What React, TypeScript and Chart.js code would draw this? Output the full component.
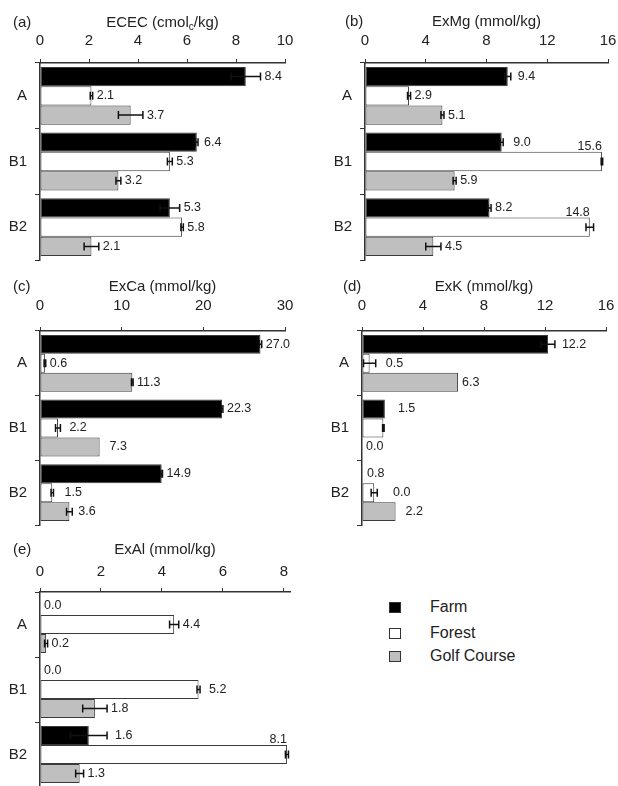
import React, { useEffect, useRef } from "react";
import { Chart, registerables } from "chart.js";

Chart.register(...registerables);

const FONT = "'Liberation Sans', Arial, Helvetica, sans-serif";
const TEXT = "#222222";
const LINE = "#333333";

// Soil horizons and land uses
const horizons = ["A", "B1", "B2"];
const landUses = ["Farm", "Forest", "Golf Course"];
const landUseFill = ["#000000", "#ffffff", "#bfbfbf"];

// (a) ECEC, cmolc/kg
const ececFarm = [8.4, 6.4, 5.3];
const ececForest = [2.1, 5.3, 5.8];
const ececGolf = [3.7, 3.2, 2.1];
const ececFarmErr = [0.6, 0.05, 0.4];
const ececForestErr = [0.05, 0.1, 0.05];
const ececGolfErr = [0.5, 0.1, 0.3];
const ececAxis = [0, 10, 2];

// (b) exchangeable Mg, mmol/kg
const mgFarm = [9.4, 9.0, 8.2];
const mgForest = [2.9, 15.6, 14.8];
const mgGolf = [5.1, 5.9, 4.5];
const mgFarmErr = [0.2, 0.1, 0.1];
const mgForestErr = [0.1, 0.05, 0.25];
const mgGolfErr = [0.1, 0.1, 0.5];
const mgAxis = [0, 16, 4];

// (c) exchangeable Ca, mmol/kg
const caFarm = [27.0, 22.3, 14.9];
const caForest = [0.6, 2.2, 1.5];
const caGolf = [11.3, 7.3, 3.6];
const caFarmErr = [0.15, 0.1, 0.1];
const caForestErr = [0.1, 0.3, 0.15];
const caGolfErr = [0.1, 0, 0.35];
const caAxis = [0, 30, 10];

// (d) exchangeable K, mmol/kg
const kFarm = [12.2, 1.5, 0.0];
const kForest = [0.5, 1.4, 0.8];
const kGolf = [6.3, 0.0, 2.2];
const kFarmErr = [0.45, 0, 0];
const kForestErr = [0.4, 0.05, 0.2];
const kGolfErr = [0, 0, 0];
const kAxis = [0, 16, 4];

// (e) exchangeable Al, mmol/kg
const alFarm = [0.0, 0.0, 1.6];
const alForest = [4.4, 5.2, 8.1];
const alGolf = [0.2, 1.8, 1.3];
const alFarmErr = [0, 0, 0.6];
const alForestErr = [0.15, 0.05, 0.05];
const alGolfErr = [0.05, 0.4, 0.13];
const alAxis = [0, 8.2, 2];

// Value label placement: r = right of error bar, t = on top of bar end,
// u = one row up from the base, d = one row down, n = hidden
type Tweak = { s: number; i: number; pos: string; dx?: number };

type Layout = {
  left: number; top: number; w: number; h: number;
  pl: number; pt: number; pr: number; pb: number;
  titleY: number; letterX: number; tickPad: number;
};

type Panel = {
  letter: string;
  title: string;
  values: number[][];
  errors: number[][];
  axis: number[];
  tweaks: Tweak[];
  layout: Layout;
};

const panels: Panel[] = [
  {
    letter: "(a)",
    title: "ECEC (cmol_c/kg)",
    values: [ececFarm, ececForest, ececGolf],
    errors: [ececFarmErr, ececForestErr, ececGolfErr],
    axis: ececAxis,
    tweaks: [{ s: 0, i: 1, pos: "r", dx: 2 }],
    layout: { left: 0, top: 0, w: 309, h: 264, pl: 40, pt: 63, pr: 285, pb: 260, titleY: 23, letterX: 13, tickPad: 9 },
  },
  {
    letter: "(b)",
    title: "ExMg (mmol/kg)",
    values: [mgFarm, mgForest, mgGolf],
    errors: [mgFarmErr, mgForestErr, mgGolfErr],
    axis: mgAxis,
    tweaks: [
      { s: 0, i: 0, pos: "r", dx: 3 },
      { s: 0, i: 1, pos: "r", dx: 6 },
      { s: 1, i: 1, pos: "t" },
      { s: 1, i: 2, pos: "t" },
    ],
    layout: { left: 309, top: 0, w: 309, h: 264, pl: 56, pt: 63, pr: 299, pb: 260, titleY: 22, letterX: 36, tickPad: 9 },
  },
  {
    letter: "(c)",
    title: "ExCa (mmol/kg)",
    values: [caFarm, caForest, caGolf],
    errors: [caFarmErr, caForestErr, caGolfErr],
    axis: caAxis,
    tweaks: [
      { s: 1, i: 1, pos: "r", dx: 5 },
      { s: 2, i: 1, pos: "r", dx: 6 },
      { s: 1, i: 2, pos: "r", dx: 7 },
      { s: 2, i: 2, pos: "r", dx: 2 },
    ],
    layout: { left: 0, top: 270, w: 309, h: 260, pl: 40, pt: 61, pr: 285, pb: 255, titleY: 17, letterX: 13, tickPad: 12 },
  },
  {
    letter: "(d)",
    title: "ExK (mmol/kg)",
    values: [kFarm, kForest, kGolf],
    errors: [kFarmErr, kForestErr, kGolfErr],
    axis: kAxis,
    tweaks: [
      { s: 0, i: 0, pos: "r", dx: 3 },
      { s: 1, i: 0, pos: "r", dx: 6 },
      { s: 0, i: 1, pos: "r", dx: 9 },
      { s: 1, i: 1, pos: "n" },
      { s: 0, i: 2, pos: "d", dx: 27 },
      { s: 1, i: 2, pos: "u", dx: 1 },
      { s: 2, i: 2, pos: "r", dx: 6 },
    ],
    layout: { left: 309, top: 270, w: 309, h: 260, pl: 53, pt: 61, pr: 297, pb: 255, titleY: 17, letterX: 34, tickPad: 12 },
  },
  {
    letter: "(e)",
    title: "ExAl (mmol/kg)",
    values: [alFarm, alForest, alGolf],
    errors: [alFarmErr, alForestErr, alGolfErr],
    axis: alAxis,
    tweaks: [
      { s: 1, i: 1, pos: "r", dx: 5 },
      { s: 0, i: 2, pos: "r", dx: 4 },
      { s: 1, i: 2, pos: "t" },
    ],
    layout: { left: 0, top: 530, w: 309, h: 262, pl: 40, pt: 62, pr: 290, pb: 257, titleY: 20, letterX: 13, tickPad: 7 },
  },
];

// Draws "(x)" panel letter and the centred axis title (text after "_" is subscript)
function headerPlugin(panel: Panel) {
  return {
    id: "panelHeader",
    afterDraw(chart: any) {
      const ctx = chart.ctx as CanvasRenderingContext2D;
      const { left, right } = chart.chartArea;
      const y = panel.layout.titleY;
      ctx.save();
      ctx.fillStyle = TEXT;
      ctx.textBaseline = "middle";
      ctx.textAlign = "left";
      ctx.font = `15px ${FONT}`;
      ctx.fillText(panel.letter, panel.layout.letterX, y);

      const m = panel.title.match(/^(.*?)_(.)(.*)$/);
      const parts = m
        ? [
            { t: m[1], sub: false },
            { t: m[2], sub: true },
            { t: m[3], sub: false },
          ]
        : [{ t: panel.title, sub: false }];
      const widths = parts.map((p) => {
        ctx.font = `${p.sub ? 10 : 15}px ${FONT}`;
        return ctx.measureText(p.t).width;
      });
      const total = widths.reduce((a, b) => a + b, 0);
      let x = (left + right) / 2 - total / 2;
      parts.forEach((p, k) => {
        ctx.font = `${p.sub ? 10 : 15}px ${FONT}`;
        ctx.fillText(p.t, x, p.sub ? y + 4 : y);
        x += widths[k];
      });
      ctx.restore();
    },
  };
}

// Error bars and value labels for every bar
function annotationPlugin(panel: Panel) {
  return {
    id: "barAnnotations",
    afterDatasetsDraw(chart: any) {
      const ctx = chart.ctx as CanvasRenderingContext2D;
      const xs = chart.scales.x;
      ctx.save();
      panel.values.forEach((series, s) => {
        const meta = chart.getDatasetMeta(s);
        series.forEach((v, i) => {
          const bar = meta.data[i];
          const { y, height } = bar.getProps(["y", "height"], true);
          const e = panel.errors[s][i];
          if (e > 0) {
            const x0 = xs.getPixelForValue(v - e);
            const x1 = xs.getPixelForValue(v + e);
            const cap = 4;
            ctx.strokeStyle = "#111111";
            ctx.lineWidth = 1.5;
            ctx.beginPath();
            ctx.moveTo(x0, y);
            ctx.lineTo(x1, y);
            ctx.moveTo(x0, y - cap);
            ctx.lineTo(x0, y + cap);
            ctx.moveTo(x1, y - cap);
            ctx.lineTo(x1, y + cap);
            ctx.stroke();
          }
          const tw = panel.tweaks.find((t) => t.s === s && t.i === i);
          const pos = tw ? tw.pos : "r";
          const dx = tw && tw.dx ? tw.dx : 0;
          if (pos === "n") return;
          const text = v.toFixed(1);
          ctx.font = `12.5px ${FONT}`;
          ctx.fillStyle = TEXT;
          if (pos === "t") {
            ctx.textAlign = "right";
            ctx.textBaseline = "bottom";
            ctx.fillText(text, xs.getPixelForValue(v) + dx, y - height / 2 + 1);
          } else if (pos === "u") {
            ctx.textAlign = "left";
            ctx.textBaseline = "middle";
            ctx.fillText(text, xs.getPixelForValue(0) + 4 + dx, y - height);
          } else if (pos === "d") {
            ctx.textAlign = "left";
            ctx.textBaseline = "middle";
            ctx.fillText(text, xs.getPixelForValue(v + e) + 4 + dx, y + height);
          } else {
            ctx.textAlign = "left";
            ctx.textBaseline = "middle";
            ctx.fillText(text, xs.getPixelForValue(v + e) + 4 + dx, y);
          }
        });
      });
      ctx.restore();
    },
  };
}

function PanelChart({ panel }: { panel: Panel }) {
  const ref = useRef<HTMLCanvasElement | null>(null);
  useEffect(() => {
    if (!ref.current) return;
    const L = panel.layout;
    const [min, max, step] = panel.axis;
    const chart = new Chart(ref.current, {
      type: "bar",
      data: {
        labels: horizons,
        datasets: panel.values.map((vals, s) => ({
          label: landUses[s],
          data: vals,
          backgroundColor: landUseFill[s],
          borderColor: "#3a3a3a",
          borderWidth: 1,
          borderSkipped: false,
          categoryPercentage: 0.88,
          barPercentage: 1.0,
        })),
      },
      options: {
        indexAxis: "y",
        responsive: false,
        animation: false,
        layout: { padding: { left: 0, top: 0, right: L.w - L.pr, bottom: L.h - L.pb } },
        plugins: { legend: { display: false }, tooltip: { enabled: false }, title: { display: false } },
        scales: {
          x: {
            type: "linear",
            position: "top",
            min,
            max,
            ticks: {
              stepSize: step,
              includeBounds: false,
              color: TEXT,
              padding: L.tickPad,
              font: { family: FONT, size: 15 },
              maxRotation: 0,
            },
            grid: { drawOnChartArea: false, drawTicks: true, tickLength: 4, color: LINE, lineWidth: 1 },
            border: { display: true, color: LINE, width: 1.5 },
            afterFit(scale: any) {
              scale.height = L.pt;
              scale.paddingLeft = 0;
              scale.paddingRight = 0;
            },
          },
          y: {
            type: "category",
            offset: true,
            ticks: { color: TEXT, padding: 8, font: { family: FONT, size: 15 } },
            grid: { offset: true, drawOnChartArea: false, drawTicks: true, tickLength: 5, color: LINE, lineWidth: 1 },
            border: { display: true, color: LINE, width: 1.5 },
            afterFit(scale: any) {
              scale.width = L.pl;
              scale.paddingTop = 0;
              scale.paddingBottom = 0;
            },
          },
        },
      } as any,
      plugins: [annotationPlugin(panel), headerPlugin(panel)],
    });
    return () => chart.destroy();
  }, [panel]);
  const L = panel.layout;
  return (
    <canvas
      ref={ref}
      width={L.w}
      height={L.h}
      style={{ position: "absolute", left: L.left, top: L.top, width: L.w, height: L.h }}
    />
  );
}

const legendTops = [602, 628, 651];

export default function App() {
  return (
    <div
      style={{
        position: "fixed",
        left: 0,
        top: 0,
        width: 618,
        height: 786,
        overflow: "hidden",
        background: "#ffffff",
        fontFamily: FONT,
      }}
    >
      {panels.map((p) => (
        <PanelChart key={p.letter} panel={p} />
      ))}
      {landUses.map((name, k) => (
        <React.Fragment key={name}>
          <div
            style={{
              position: "absolute",
              left: 389,
              top: legendTops[k],
              width: 10,
              height: 9,
              background: landUseFill[k],
              border: "1px solid #333333",
            }}
          />
          <div
            style={{
              position: "absolute",
              left: 430,
              top: legendTops[k] + 5,
              transform: "translateY(-50%)",
              fontSize: 16,
              color: TEXT,
              lineHeight: "18px",
              whiteSpace: "nowrap",
            }}
          >
            {name}
          </div>
        </React.Fragment>
      ))}
    </div>
  );
}
